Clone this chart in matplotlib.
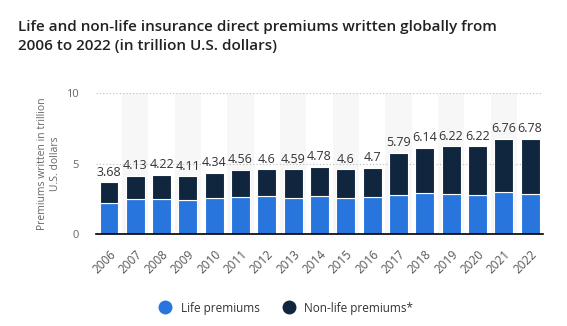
import numpy as np
import matplotlib.pyplot as plt

plt.rcParams['font.family'] = ['Open Sans', 'DejaVu Sans']

years = [str(y) for y in range(2006, 2023)]
totals = [3.68, 4.13, 4.22, 4.11, 4.34, 4.56, 4.6, 4.59, 4.78, 4.6, 4.7,
          5.79, 6.14, 6.22, 6.22, 6.76, 6.78]
life = [2.21, 2.50, 2.50, 2.40, 2.55, 2.62, 2.69, 2.57, 2.69, 2.57, 2.64,
        2.79, 2.93, 2.86, 2.74, 2.98, 2.86]
non_life = [round(t - l, 2) for t, l in zip(totals, life)]

LIFE_COL = '#2876dd'
NONLIFE_COL = '#10263f'

fig = plt.figure(figsize=(5.67, 3.26), dpi=100)
ax = fig.add_axes([0.169, 0.282, 0.789, 0.432])

x = np.arange(len(years))
# alternating column shading
for i in x[1::2]:
    ax.axvspan(i - 0.5, i + 0.5, color='#f7f7f7', zorder=0, lw=0)

ax.bar(x, life, width=0.72, color=LIFE_COL, edgecolor='white', linewidth=0.8, zorder=3,
       label='Life premiums')
ax.bar(x, non_life, bottom=life, width=0.72, color=NONLIFE_COL, edgecolor='white',
       linewidth=0.8, zorder=3, label='Non-life premiums*')

for xi, t in zip(x, totals):
    ax.text(xi, t + 0.25, f'{t:g}', ha='center', va='bottom', fontsize=9,
            color='#333333', zorder=4)

ax.set_xlim(-0.5, len(years) - 0.5)
ax.set_ylim(0, 10)
ax.set_yticks([0, 5, 10])
ax.yaxis.grid(True, linestyle=(0, (1, 2)), color='#bbbbbb', linewidth=0.8, zorder=1)
ax.set_axisbelow(True)
for s in ['top', 'right', 'left']:
    ax.spines[s].set_visible(False)
ax.spines['bottom'].set_color('black')
ax.spines['bottom'].set_linewidth(1.2)
ax.spines['bottom'].set_zorder(5)

ax.set_xticks(x)
ax.set_xticklabels(years, rotation=45, ha='right', rotation_mode='anchor',
                   fontsize=8.5, color='#555555')
ax.tick_params(axis='x', length=0, pad=10)
ax.tick_params(axis='y', length=0, pad=12, labelsize=8, labelcolor='#666666')

ax.set_ylabel('Premiums written in trillion\nU.S. dollars', fontsize=7.5, color='#666666',
              labelpad=4)

fig.text(0.031, 0.94, 'Life and non-life insurance direct premiums written globally from\n'
         '2006 to 2022 (in trillion U.S. dollars)', ha='left', va='top',
         fontsize=11, fontweight=600, color='#222222', linespacing=1.5)

handles = [plt.Line2D([], [], marker='o', linestyle='', markersize=9, color=LIFE_COL),
           plt.Line2D([], [], marker='o', linestyle='', markersize=9, color=NONLIFE_COL)]
fig.legend(handles, ['Life premiums', 'Non-life premiums*'], loc='center',
           bbox_to_anchor=(0.5, 0.055), ncol=2, frameon=False, fontsize=8.5,
           handletextpad=0.3, columnspacing=1.5, labelcolor='#333333')

fig.savefig('out.png', dpi=100)
